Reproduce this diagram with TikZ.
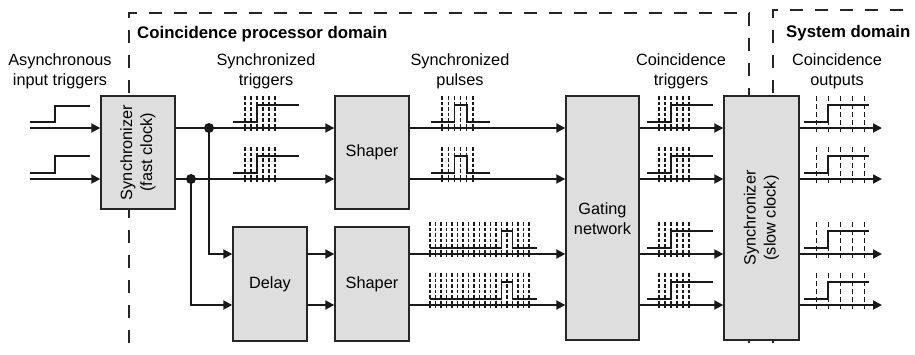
\documentclass[tikz,border=0pt]{standalone}
\usepackage{fontspec}
\setmainfont{Liberation Sans}
\usetikzlibrary{arrows.meta}
\newcommand\wvTrig[2]{%
  \foreach \k in {0,...,5} \draw[tick] ({#1+6*\k},{#2-32}) -- ({#1+6*\k},{#2+3});
  \draw[wave] ({#1-12},{#2-6}) -- ({#1+12},{#2-6}) -- ({#1+12},{#2-23}) -- ({#1+54},{#2-23});
}
\newcommand\wvPulse[2]{%
  \foreach \k in {0,...,5} \draw[tick] ({#1+6.2*\k},{#2-32}) -- ({#1+6.2*\k},{#2+3});
  \draw[wave] ({#1-11},{#2-6}) -- ({#1+12.4},{#2-6}) -- ({#1+12.4},{#2-23}) -- ({#1+24.8},{#2-23}) -- ({#1+24.8},{#2-6}) -- ({#1+48},{#2-6});
}
\newcommand\wvLong[2]{%
  \foreach \k in {0,...,18} \draw[tick] ({#1+5.5*\k},{#2-32}) -- ({#1+5.5*\k},{#2+3});
  \draw[wave] ({#1},{#2-6}) -- ({#1+71.5},{#2-6}) -- ({#1+71.5},{#2-23}) -- ({#1+82.5},{#2-23}) -- ({#1+82.5},{#2-6}) -- ({#1+107},{#2-6});
}
\newcommand\wvSlow[2]{%
  \foreach \k in {0,...,4} \draw[slowtick] ({#1+12*\k},{#2-32}) -- ({#1+12*\k},{#2+4});
  \draw[wave] ({#1-12.5},{#2-6}) -- ({#1+11.5},{#2-6}) -- ({#1+11.5},{#2-23}) -- ({#1+52.5},{#2-23});
}
\begin{document}
\begin{tikzpicture}[x=1pt,y=-1pt,
  blk/.style={draw=black!85, line width=1.4pt, fill=black!13, inner sep=0pt, rectangle},
  sig/.style={line width=1.8pt, draw=black!90},
  arr/.style={sig, -{Triangle[length=9pt,width=9pt]}},
  dom/.style={line width=1.5pt, dash pattern=on 13pt off 12pt, draw=black!85},
  lbl/.style={font=\fontsize{16.3}{20}\selectfont, align=center, inner sep=0pt},
  ttl/.style={font=\fontsize{16.8}{20}\selectfont\bfseries, anchor=base west, inner sep=0pt},
  dot/.style={circle, fill=black!90, inner sep=0pt, minimum size=10pt},
  wave/.style={line width=1.5pt, draw=black!90},
  tick/.style={line width=1.3pt, dash pattern=on 3.5pt off 2pt, draw=black!90},
  slowtick/.style={line width=1.5pt, dash pattern=on 5pt off 3pt, draw=black!90}]
\useasboundingbox (0,0) rectangle (915,354);
% domain borders
\draw[dom] (129,343) -- (129,13) -- (749,13) -- (749,343);
\draw[dom] (773,343) -- (773,10) -- (915,10);
\node[ttl] (tcp) at (137,38) {Coincidence processor domain};
\node[ttl] (tsd) at (786,37) {System domain};
% labels
\node[lbl, anchor=north] (lai) at (60,53) {Asynchronous\\input triggers};
\node[lbl, anchor=north] (lst) at (266,53) {Synchronized\\triggers};
\node[lbl, anchor=north] (lsp) at (460,53) {Synchronized\\pulses};
\node[lbl, anchor=north] (lct) at (681,53) {Coincidence\\triggers};
\node[lbl, anchor=north] (lco) at (837,53) {Coincidence\\outputs};
% blocks
\node[blk, minimum width=74pt, minimum height=113pt] (sf) at (138,152.5) {};
\node[lbl, rotate=90] (sft) at (sf.center) {Synchronizer\\(fast clock)};
\node[blk, minimum width=74pt, minimum height=113pt] (sh1) at (372,152.5) {};
\node[lbl] (sh1t) at (sh1.center) {Shaper};
\node[blk, minimum width=74pt, minimum height=114pt] (dl) at (270,284) {};
\node[lbl] (dlt) at (dl.center) {Delay};
\node[blk, minimum width=74pt, minimum height=114pt] (sh2) at (372,284) {};
\node[lbl] (sh2t) at (sh2.center) {Shaper};
\node[blk, minimum width=73pt, minimum height=244pt] (gn) at (602.5,218) {};
\node[lbl] (gnt) at (602.5,219) {Gating\\network};
\node[blk, minimum width=75pt, minimum height=244pt] (ss) at (761.5,218) {};
\node[lbl, rotate=90] (sst) at (ss.center) {Synchronizer\\(slow clock)};
% levels
\coordinate (y1) at (0,128);
\coordinate (y2) at (0,179);
\coordinate (y3) at (0,254);
\coordinate (y4) at (0,305);
\coordinate (i1) at (30,128);
\coordinate (i2) at (30,179);
\coordinate (o1) at (882,128);
\coordinate (o2) at (882,179);
\coordinate (o3) at (882,254);
\coordinate (o4) at (882,305);
% input step waveforms
\draw[wave] (30,122) -- (55,122) -- (55,106) -- (90,106);
\draw[wave] (30,173) -- (55,173) -- (55,156) -- (90,156);
% connectors
\draw[arr] (i1) -- (sf.west |- y1);
\draw[arr] (i2) -- (sf.west |- y2);
\draw[arr] (sf.east |- y1) -- (sh1.west |- y1);
\draw[arr] (sf.east |- y2) -- (sh1.west |- y2);
\node[dot] (d1) at (209,128) {};
\node[dot] (d2) at (191,179) {};
\draw[arr] (d1.center) |- (dl.west |- y3);
\draw[arr] (d2.center) |- (dl.west |- y4);
\draw[arr] (dl.east |- y3) -- (sh2.west |- y3);
\draw[arr] (dl.east |- y4) -- (sh2.west |- y4);
\draw[arr] (sh1.east |- y1) -- (gn.west |- y1);
\draw[arr] (sh1.east |- y2) -- (gn.west |- y2);
\draw[arr] (sh2.east |- y3) -- (gn.west |- y3);
\draw[arr] (sh2.east |- y4) -- (gn.west |- y4);
\draw[arr] (gn.east |- y1) -- (ss.west |- y1);
\draw[arr] (gn.east |- y2) -- (ss.west |- y2);
\draw[arr] (gn.east |- y3) -- (ss.west |- y3);
\draw[arr] (gn.east |- y4) -- (ss.west |- y4);
\draw[arr] (ss.east |- y1) -- (o1);
\draw[arr] (ss.east |- y2) -- (o2);
\draw[arr] (ss.east |- y3) -- (o3);
\draw[arr] (ss.east |- y4) -- (o4);
% waveforms
\wvTrig{245}{128}
\wvTrig{245}{179}
\wvPulse{442}{128}
\wvPulse{442}{179}
\wvLong{430}{254}
\wvLong{430}{305}
\wvTrig{659}{128}
\wvTrig{659}{179}
\wvTrig{659}{254}
\wvTrig{659}{305}
\wvSlow{816.5}{128}
\wvSlow{816.5}{179}
\wvSlow{816.5}{254}
\wvSlow{816.5}{305}
\end{tikzpicture}
\end{document}
